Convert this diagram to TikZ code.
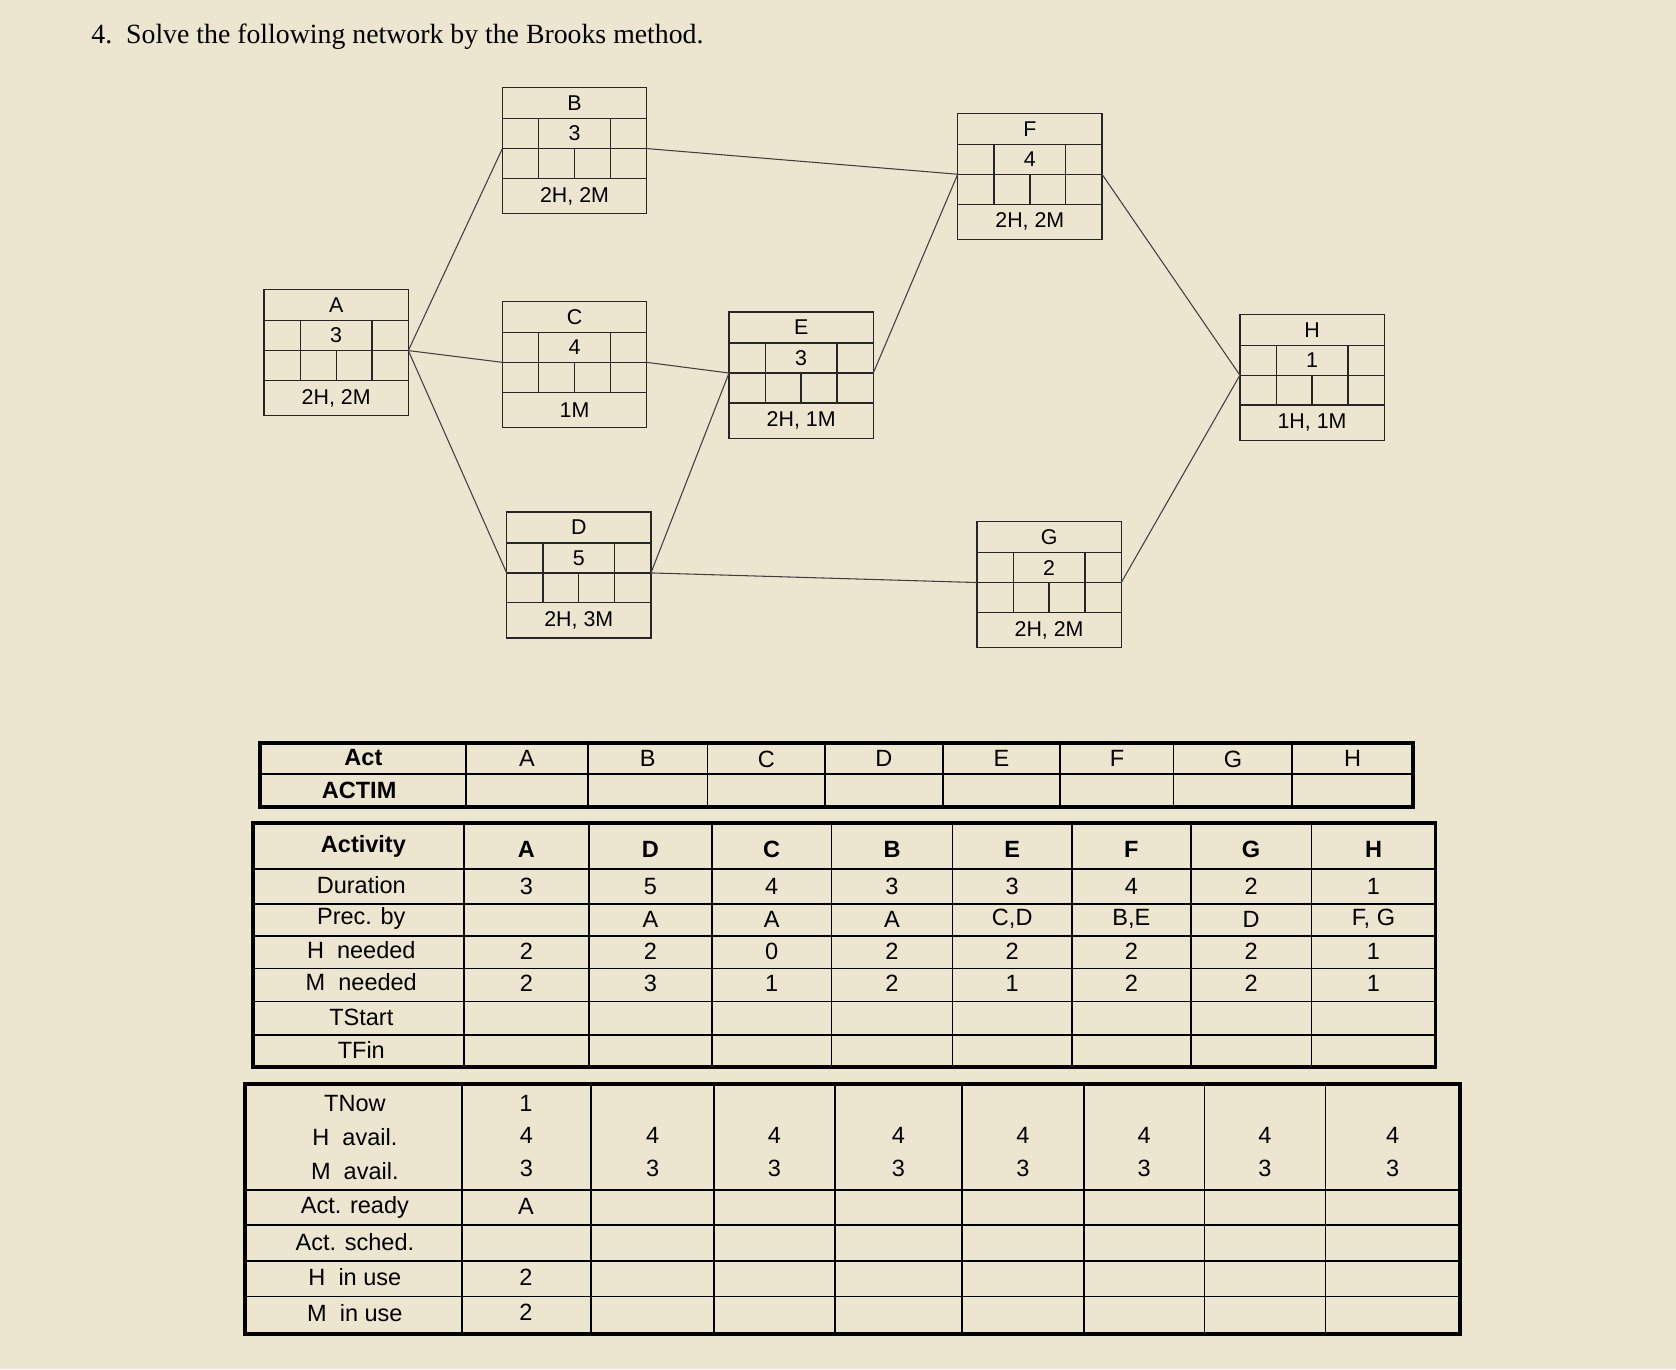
\documentclass[tikz,border=0pt]{standalone}
\usepackage{fontspec}
\setmainfont{Liberation Sans}
\newfontfamily\serifttl{Liberation Serif}
\definecolor{paper}{RGB}{236,229,208}
\newcommand\actbox[6]{%
\begin{scope}[shift={(#2,#3)}]
\draw[boxline] (0,0) rectangle (135,118);
\draw[boxline] (0,29)--(135,29) (0,57)--(135,57) (0,85)--(135,85)
 (34,29)--(34,85) (101,29)--(101,85) (67.5,57)--(67.5,85);
\node[bt] (#1n) at (67.5,14.5) {#4};
\node[bt] (#1d) at (67.5,43) {#5};
\node[bt] (#1r) at (67.5,101.5) {#6};
\coordinate (#1w) at (0,57);
\coordinate (#1e) at (135,57);
\end{scope}}
\begin{document}
\begin{tikzpicture}[x=1pt,y=-1pt,
 boxline/.style={draw=black!85,line width=1.2pt},
 conn/.style={draw=black!75,line width=1pt},
 bt/.style={font=\fontsize{20}{24}\selectfont,inner sep=0pt},
 tt/.style={font=\fontsize{22}{26}\selectfont,inner sep=0pt},
 tb/.style={font=\fontsize{22}{26}\selectfont\bfseries,inner sep=0pt},
 thick box/.style={line width=3.5pt},
 grid line/.style={line width=1.6pt}]
\fill[paper] (0,0) rectangle (1568,1281);
\useasboundingbox (0,0) rectangle (1568,1281);
\node[anchor=west,font=\serifttl\fontsize{26}{30}\selectfont] (title) at (82,34) {4.\ \ Solve the following network by the Brooks method.};
\actbox{A}{247}{271}{A}{3}{2H, 2M}
\actbox{B}{470}{82}{B}{3}{2H, 2M}
\actbox{C}{470}{282}{C}{4}{1M}
\actbox{D}{474}{479}{D}{5}{2H, 3M}
\actbox{E}{682}{292}{E}{3}{2H, 1M}
\actbox{F}{896}{106}{F}{4}{2H, 2M}
\actbox{G}{914}{488}{G}{2}{2H, 2M}
\actbox{H}{1160}{294}{H}{1}{1H, 1M}
\draw[conn] (Ae)--(Bw) (Ae)--(Cw) (Ae)--(Dw) (Be)--(Fw) (Ce)--(Ew)
 (De)--(Ew) (De)--(Gw) (Ee)--(Fw) (Fe)--(Hw) (Ge)--(Hw);
% table 1
\foreach \x in {550,662,772,882,992,1098,1209} \draw[grid line] (\x,695)--(\x,755);
\draw[grid line] (243,724)--(1322,724);
\draw[grid line] (436,695)--(436,755);
\draw[thick box] (243,695) rectangle (1322,755);
\node[tb] (t1a) at (340,709) {Act};
\node[tb] (t1b) at (336,739) {ACTIM};
\foreach \l [count=\i] in {A,B,C,D,E,F,G,H}{
 \pgfmathsetmacro\xx{{436,550,662,772,882,992,1098,1209,1322}[\i-1]/2+{436,550,662,772,882,992,1098,1209,1322}[\i]/2}
 \node[tt] (t1c\i) at (\xx,710) {\l};}
% table 2
\foreach \y in {813,846,876,906,937,968} \draw[grid line] (237,\y)--(1343,\y);
\foreach \x in {434,551,666,778,891,1003,1114,1227} \draw[grid line] (\x,770)--(\x,998);
\draw[thick box] (237,770) rectangle (1343,998);
\foreach \t/\y [count=\k] in {Activity/792,Duration/828,Prec. by/859,H\ \ needed/889,M\ \ needed/919,TStart/952,TFin/982}{
 \ifnum\k=1 \node[tb] (t2l\k) at (340,\y) {\t};\else\node[tt] (t2l\k) at (338,\y) {\t};\fi}
\foreach \a/\d/\p/\h/\m [count=\i] in {A/3//2/2, D/5/A/2/3, C/4/A/0/1, B/3/A/2/2, E/3/{C,D}/2/1, F/4/{B,E}/2/2, G/2/D/2/2, H/1/{F, G}/1/1}{
 \pgfmathsetmacro\xx{{434,551,666,778,891,1003,1114,1227,1343}[\i-1]/2+{434,551,666,778,891,1003,1114,1227,1343}[\i]/2}
 \node[tb] (t2a\i) at (\xx,795) {\a};
 \node[tt] (t2d\i) at (\xx,829) {\d};
 \node[tt] (t2p\i) at (\xx,860) {\p};
 \node[tt] (t2h\i) at (\xx,890) {\h};
 \node[tt] (t2m\i) at (\xx,920) {\m};}
% table 3
\foreach \y in {1113,1146,1180,1213} \draw[grid line] (229,\y)--(1366,\y);
\foreach \x in {432,553,668,781,900,1014,1127,1240} \draw[grid line] (\x,1014)--(\x,1248);
\draw[thick box] (229,1014) rectangle (1366,1248);
\foreach \t/\y [count=\k] in {TNow/1032,H\ \ avail./1064,M\ \ avail./1096,Act. ready/1130,Act. sched./1162,H\ \ in use/1195,M\ \ in use/1228}
 \node[tt] (t3l\k) at (332,\y) {\t};
\foreach \i in {1,...,8}{
 \pgfmathsetmacro\xx{{432,553,668,781,900,1014,1127,1240,1366}[\i-1]/2+{432,553,668,781,900,1014,1127,1240,1366}[\i]/2}
 \node[tt] (t3h\i) at (\xx,1062) {4};
 \node[tt] (t3m\i) at (\xx,1093) {3};}
\node[tt] (t3n) at (492,1032) {1};
\node[tt] (t3r) at (492,1129) {A};
\node[tt] (t3hu) at (492,1195) {2};
\node[tt] (t3mu) at (492,1228) {2};
\end{tikzpicture}
\end{document}
